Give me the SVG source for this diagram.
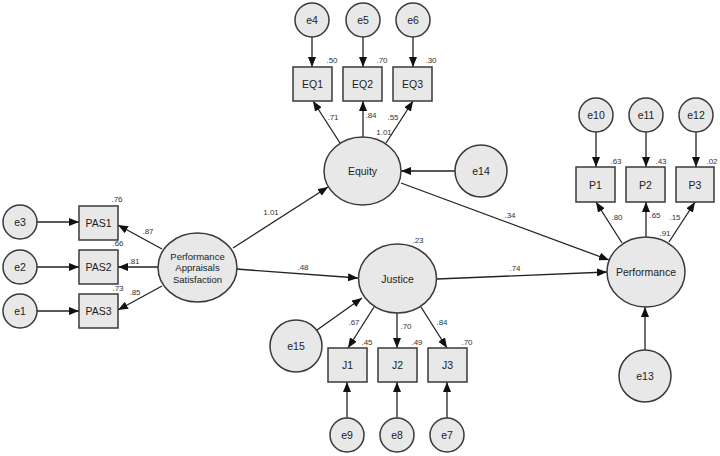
<svg xmlns="http://www.w3.org/2000/svg" width="720" height="456" viewBox="0 0 720 456">
<style>
.n{fill:#e8e8e8;stroke:#3a3a3a;stroke-width:1.5}
.t{font-family:"Liberation Sans",Arial,sans-serif;font-size:10.5px;fill:#222;text-anchor:middle;dominant-baseline:central}
.l{font-family:"Liberation Sans",Arial,sans-serif;font-size:8px;fill:#333;text-anchor:middle;dominant-baseline:central}
.c line{stroke:#222;stroke-width:1.3;marker-end:url(#a)}
</style>
<defs>
<marker id="a" markerUnits="userSpaceOnUse" markerWidth="11" markerHeight="8" refX="10" refY="4" orient="auto">
<path d="M0,0 L10,4 L0,8 Z" fill="#111"/>
</marker>
</defs>
<rect width="720" height="456" fill="#fff"/>
<g class="c">
<line x1="37" y1="222" x2="79" y2="222"/>
<line x1="37" y1="267" x2="79" y2="267"/>
<line x1="37" y1="311" x2="79" y2="311"/>
<line x1="162" y1="249" x2="118" y2="225"/>
<line x1="158" y1="267" x2="118" y2="267"/>
<line x1="162" y1="286" x2="118" y2="310"/>
<line x1="312" y1="37" x2="312" y2="67"/>
<line x1="363" y1="37" x2="363" y2="67"/>
<line x1="413" y1="37" x2="413" y2="67"/>
<line x1="340" y1="143" x2="313" y2="101"/>
<line x1="363" y1="137" x2="363" y2="101"/>
<line x1="386" y1="143" x2="413" y2="101"/>
<line x1="455" y1="171" x2="401" y2="171"/>
<line x1="233" y1="248" x2="328" y2="187"/>
<line x1="236" y1="269" x2="358" y2="278"/>
<line x1="401" y1="183" x2="609" y2="260"/>
<line x1="437" y1="279" x2="607" y2="272"/>
<line x1="317" y1="330" x2="362" y2="298"/>
<line x1="374" y1="307" x2="348" y2="348"/>
<line x1="397" y1="313" x2="397" y2="348"/>
<line x1="421" y1="307" x2="447" y2="348"/>
<line x1="347" y1="418" x2="347" y2="382"/>
<line x1="397" y1="418" x2="397" y2="382"/>
<line x1="447" y1="418" x2="447" y2="382"/>
<line x1="596" y1="132" x2="596" y2="167"/>
<line x1="646" y1="132" x2="646" y2="167"/>
<line x1="696" y1="132" x2="696" y2="167"/>
<line x1="622" y1="243" x2="596" y2="202"/>
<line x1="646" y1="237" x2="646" y2="202"/>
<line x1="669" y1="242" x2="695" y2="202"/>
<line x1="645" y1="350" x2="645" y2="307"/>
</g>
<g id="e3"><circle class="n" cx="20" cy="222" r="17"/><text class="t" x="20" y="222">e3</text></g>
<g id="e2"><circle class="n" cx="20" cy="267" r="17"/><text class="t" x="20" y="267">e2</text></g>
<g id="e1"><circle class="n" cx="20" cy="311" r="17"/><text class="t" x="20" y="311">e1</text></g>
<g id="PAS1"><rect class="n" x="79" y="206" width="39" height="34"/><text class="t" x="98.5" y="223">PAS1</text></g>
<g id="PAS2"><rect class="n" x="79" y="250" width="39" height="34"/><text class="t" x="98.5" y="267">PAS2</text></g>
<g id="PAS3"><rect class="n" x="79" y="294" width="39" height="34"/><text class="t" x="98.5" y="311">PAS3</text></g>
<g id="PAS"><ellipse class="n" cx="197.5" cy="267.5" rx="39.5" ry="34.5"/><text class="t" x="197.5" y="256" style="font-size:9.5px">Performance</text><text class="t" x="197.5" y="267.5" style="font-size:9.5px">Appraisals</text><text class="t" x="197.5" y="279" style="font-size:9.5px">Satisfaction</text></g>
<g id="e4"><circle class="n" cx="312" cy="20" r="17"/><text class="t" x="312" y="20">e4</text></g>
<g id="e5"><circle class="n" cx="363" cy="20" r="17"/><text class="t" x="363" y="20">e5</text></g>
<g id="e6"><circle class="n" cx="413" cy="20" r="17"/><text class="t" x="413" y="20">e6</text></g>
<g id="EQ1"><rect class="n" x="293" y="67" width="39" height="34"/><text class="t" x="312.5" y="84">EQ1</text></g>
<g id="EQ2"><rect class="n" x="343" y="67" width="39" height="34"/><text class="t" x="362.5" y="84">EQ2</text></g>
<g id="EQ3"><rect class="n" x="393" y="67" width="39" height="34"/><text class="t" x="412.5" y="84">EQ3</text></g>
<g id="Equity"><ellipse class="n" cx="362.5" cy="171" rx="38.5" ry="34"/><text class="t" x="362.5" y="171">Equity</text></g>
<g id="e14"><circle class="n" cx="481" cy="171" r="26"/><text class="t" x="481" y="171">e14</text></g>
<g id="Justice"><ellipse class="n" cx="397.5" cy="278.5" rx="39" ry="34.5"/><text class="t" x="397.5" y="278.5">Justice</text></g>
<g id="e15"><circle class="n" cx="296" cy="346" r="26"/><text class="t" x="296" y="346">e15</text></g>
<g id="J1"><rect class="n" x="328" y="348" width="39" height="34"/><text class="t" x="347.5" y="365">J1</text></g>
<g id="J2"><rect class="n" x="378" y="348" width="39" height="34"/><text class="t" x="397.5" y="365">J2</text></g>
<g id="J3"><rect class="n" x="428" y="348" width="39" height="34"/><text class="t" x="447.5" y="365">J3</text></g>
<g id="e9"><circle class="n" cx="347" cy="435" r="17"/><text class="t" x="347" y="435">e9</text></g>
<g id="e8"><circle class="n" cx="397" cy="435" r="17"/><text class="t" x="397" y="435">e8</text></g>
<g id="e7"><circle class="n" cx="447" cy="435" r="17"/><text class="t" x="447" y="435">e7</text></g>
<g id="e10"><circle class="n" cx="596" cy="115" r="17"/><text class="t" x="596" y="115">e10</text></g>
<g id="e11"><circle class="n" cx="646" cy="115" r="17"/><text class="t" x="646" y="115">e11</text></g>
<g id="e12"><circle class="n" cx="696" cy="115" r="17"/><text class="t" x="696" y="115">e12</text></g>
<g id="P1"><rect class="n" x="576" y="167" width="39" height="35"/><text class="t" x="595.5" y="184.5">P1</text></g>
<g id="P2"><rect class="n" x="626" y="167" width="39" height="35"/><text class="t" x="645.5" y="184.5">P2</text></g>
<g id="P3"><rect class="n" x="676" y="167" width="38" height="35"/><text class="t" x="695" y="184.5">P3</text></g>
<g id="Performance"><ellipse class="n" cx="646" cy="272" rx="39" ry="35"/><text class="t" x="646" y="272">Performance</text></g>
<g id="e13"><circle class="n" cx="645" cy="376" r="26"/><text class="t" x="645" y="376">e13</text></g>
<g id="labels">
<text class="l" x="117" y="199">.76</text>
<text class="l" x="148" y="231">.87</text>
<text class="l" x="118" y="243">.66</text>
<text class="l" x="134" y="261">.81</text>
<text class="l" x="118" y="288">.73</text>
<text class="l" x="135" y="292">.85</text>
<text class="l" x="332" y="60">.50</text>
<text class="l" x="382" y="60">.70</text>
<text class="l" x="431" y="60">.30</text>
<text class="l" x="333" y="117">.71</text>
<text class="l" x="371" y="115">.84</text>
<text class="l" x="393" y="117">.55</text>
<text class="l" x="384" y="132">1.01</text>
<text class="l" x="616" y="161">.63</text>
<text class="l" x="661" y="161">.43</text>
<text class="l" x="712" y="161">.02</text>
<text class="l" x="617" y="217">.80</text>
<text class="l" x="655" y="215">.65</text>
<text class="l" x="675" y="217">.15</text>
<text class="l" x="665" y="233">.91</text>
<text class="l" x="418" y="240">.23</text>
<text class="l" x="354" y="322">.67</text>
<text class="l" x="406" y="326">.70</text>
<text class="l" x="442" y="322">.84</text>
<text class="l" x="367" y="342">.45</text>
<text class="l" x="417" y="342">.49</text>
<text class="l" x="467" y="342">.70</text>
<text class="l" x="303" y="267">.48</text>
<text class="l" x="271" y="212">1.01</text>
<text class="l" x="510" y="215">.34</text>
<text class="l" x="515" y="268">.74</text>
</g>
</svg>
